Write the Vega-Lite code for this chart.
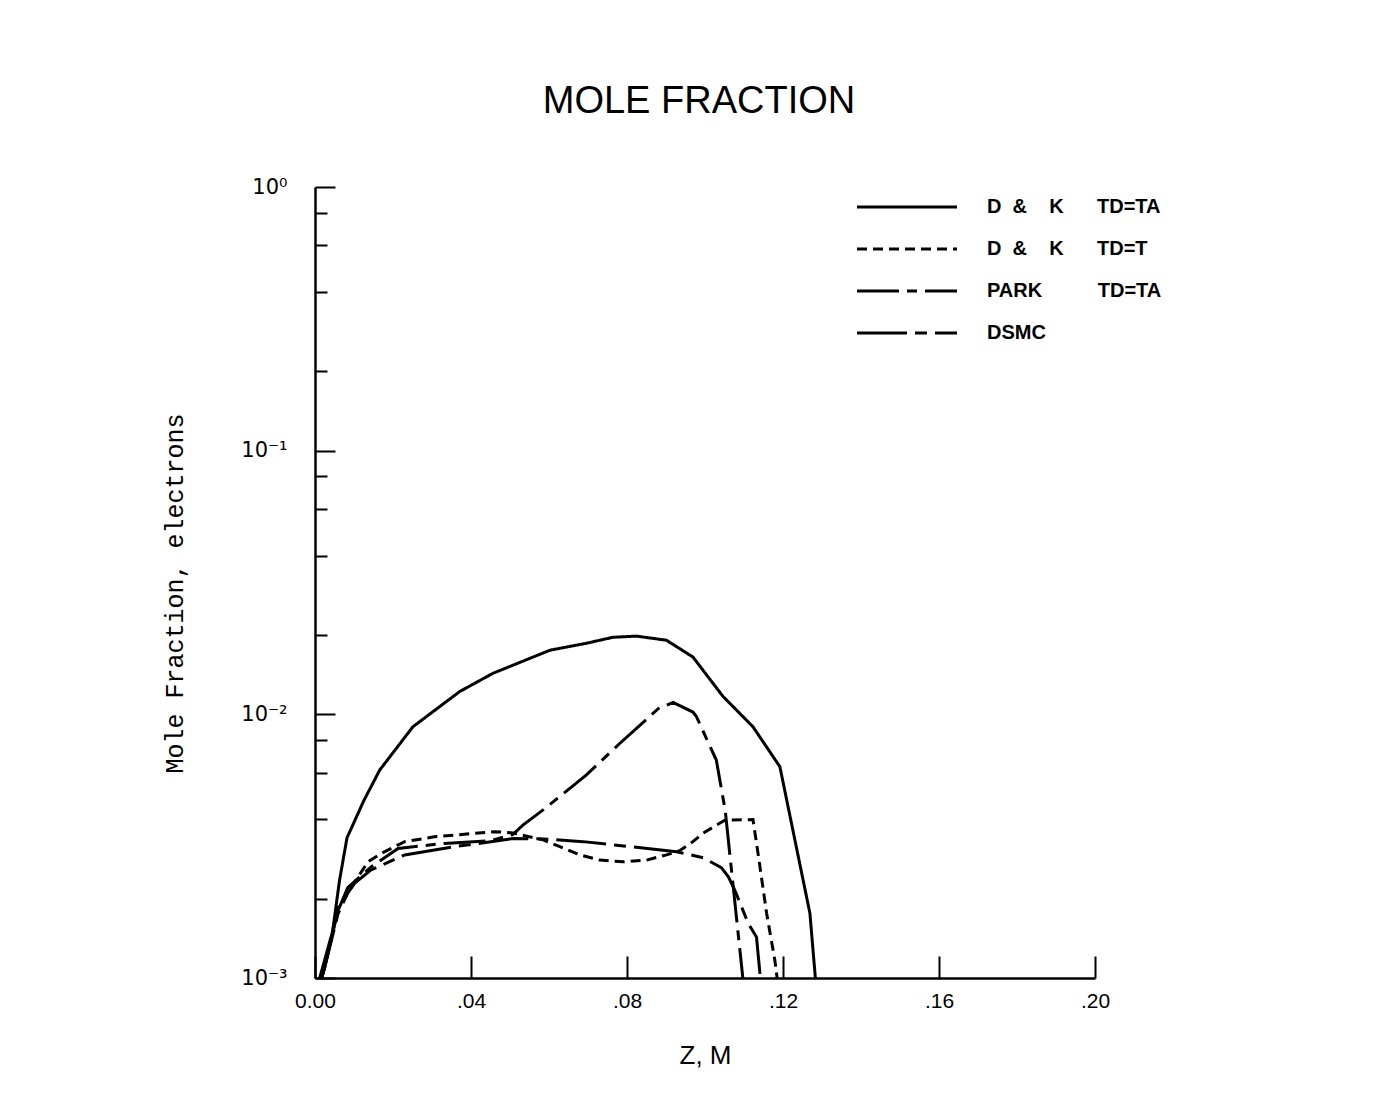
{
  "$schema": "https://vega.github.io/schema/vega-lite/v6.json",
  "width": 780,
  "height": 791,
  "autosize": {"type": "none"},
  "padding": {"left": 315, "top": 187, "right": 283, "bottom": 124},
  "background": "white",
  "config": {"view": {"stroke": null}},
  "title": {"text": "MOLE FRACTION", "anchor": "middle", "font": "Liberation Sans", "fontSize": 38, "fontWeight": "normal", "color": "black", "offset": 55, "dx": -6},
  "data": {"values": [
    {"s": "DK_TA", "z": 0.0012, "v": 0.001},
    {"s": "DK_TA", "z": 0.0045, "v": 0.0015},
    {"s": "DK_TA", "z": 0.0063, "v": 0.00235},
    {"s": "DK_TA", "z": 0.0082, "v": 0.0034},
    {"s": "DK_TA", "z": 0.0125, "v": 0.0047},
    {"s": "DK_TA", "z": 0.0166, "v": 0.00615},
    {"s": "DK_TA", "z": 0.0251, "v": 0.00897},
    {"s": "DK_TA", "z": 0.0371, "v": 0.0122},
    {"s": "DK_TA", "z": 0.0456, "v": 0.0143},
    {"s": "DK_TA", "z": 0.0602, "v": 0.0175},
    {"s": "DK_TA", "z": 0.0696, "v": 0.0186},
    {"s": "DK_TA", "z": 0.0764, "v": 0.0196},
    {"s": "DK_TA", "z": 0.0824, "v": 0.0198},
    {"s": "DK_TA", "z": 0.0901, "v": 0.0191},
    {"s": "DK_TA", "z": 0.0969, "v": 0.0165},
    {"s": "DK_TA", "z": 0.1046, "v": 0.0117},
    {"s": "DK_TA", "z": 0.1123, "v": 0.00897},
    {"s": "DK_TA", "z": 0.1192, "v": 0.00633},
    {"s": "DK_TA", "z": 0.1269, "v": 0.00176},
    {"s": "DK_TA", "z": 0.1283, "v": 0.001},
    {"s": "DK_T", "z": 0.0017, "v": 0.001},
    {"s": "DK_T", "z": 0.0025, "v": 0.0011},
    {"s": "DK_T", "z": 0.0059, "v": 0.00185},
    {"s": "DK_T", "z": 0.0136, "v": 0.00276},
    {"s": "DK_T", "z": 0.017, "v": 0.00297},
    {"s": "DK_T", "z": 0.023, "v": 0.00329},
    {"s": "DK_T", "z": 0.0306, "v": 0.00343},
    {"s": "DK_T", "z": 0.046, "v": 0.00359},
    {"s": "DK_T", "z": 0.0507, "v": 0.00355},
    {"s": "DK_T", "z": 0.0585, "v": 0.00334},
    {"s": "DK_T", "z": 0.0628, "v": 0.00315},
    {"s": "DK_T", "z": 0.0679, "v": 0.00293},
    {"s": "DK_T", "z": 0.073, "v": 0.0028},
    {"s": "DK_T", "z": 0.079, "v": 0.00276},
    {"s": "DK_T", "z": 0.085, "v": 0.0028},
    {"s": "DK_T", "z": 0.0901, "v": 0.00293},
    {"s": "DK_T", "z": 0.0935, "v": 0.00304},
    {"s": "DK_T", "z": 0.0969, "v": 0.00329},
    {"s": "DK_T", "z": 0.0995, "v": 0.00354},
    {"s": "DK_T", "z": 0.1051, "v": 0.00397},
    {"s": "DK_T", "z": 0.1123, "v": 0.00399},
    {"s": "DK_T", "z": 0.1136, "v": 0.00297},
    {"s": "DK_T", "z": 0.1158, "v": 0.00176},
    {"s": "DK_T", "z": 0.1179, "v": 0.00117},
    {"s": "DK_T", "z": 0.1185, "v": 0.001},
    {"s": "PARK", "z": 0.0017, "v": 0.001},
    {"s": "PARK", "z": 0.0025, "v": 0.0011},
    {"s": "PARK", "z": 0.0059, "v": 0.0018},
    {"s": "PARK", "z": 0.0084, "v": 0.0022},
    {"s": "PARK", "z": 0.0144, "v": 0.00264},
    {"s": "PARK", "z": 0.0213, "v": 0.0031},
    {"s": "PARK", "z": 0.0332, "v": 0.00324},
    {"s": "PARK", "z": 0.0452, "v": 0.00332},
    {"s": "PARK", "z": 0.0507, "v": 0.0035},
    {"s": "PARK", "z": 0.0533, "v": 0.0038},
    {"s": "PARK", "z": 0.0585, "v": 0.00434},
    {"s": "PARK", "z": 0.0696, "v": 0.00589},
    {"s": "PARK", "z": 0.0777, "v": 0.00765},
    {"s": "PARK", "z": 0.088, "v": 0.0105},
    {"s": "PARK", "z": 0.0918, "v": 0.0111},
    {"s": "PARK", "z": 0.0969, "v": 0.0102},
    {"s": "PARK", "z": 0.0978, "v": 0.0098},
    {"s": "PARK", "z": 0.1029, "v": 0.00671},
    {"s": "PARK", "z": 0.1052, "v": 0.0043},
    {"s": "PARK", "z": 0.1097, "v": 0.001},
    {"s": "DSMC", "z": 0.0017, "v": 0.001},
    {"s": "DSMC", "z": 0.0025, "v": 0.0011},
    {"s": "DSMC", "z": 0.0059, "v": 0.00175},
    {"s": "DSMC", "z": 0.0084, "v": 0.0021},
    {"s": "DSMC", "z": 0.0102, "v": 0.00229},
    {"s": "DSMC", "z": 0.0144, "v": 0.00257},
    {"s": "DSMC", "z": 0.023, "v": 0.00293},
    {"s": "DSMC", "z": 0.0359, "v": 0.00315},
    {"s": "DSMC", "z": 0.046, "v": 0.0033},
    {"s": "DSMC", "z": 0.0508, "v": 0.00338},
    {"s": "DSMC", "z": 0.0585, "v": 0.00337},
    {"s": "DSMC", "z": 0.0687, "v": 0.00329},
    {"s": "DSMC", "z": 0.0807, "v": 0.00315},
    {"s": "DSMC", "z": 0.0927, "v": 0.00301},
    {"s": "DSMC", "z": 0.0995, "v": 0.00286},
    {"s": "DSMC", "z": 0.1042, "v": 0.00262},
    {"s": "DSMC", "z": 0.106, "v": 0.00242},
    {"s": "DSMC", "z": 0.1076, "v": 0.00216},
    {"s": "DSMC", "z": 0.1111, "v": 0.00161},
    {"s": "DSMC", "z": 0.1132, "v": 0.00143},
    {"s": "DSMC", "z": 0.1142, "v": 0.001}
  ]},
  "encoding": {
    "x": {
      "field": "z", "type": "quantitative",
      "scale": {"domain": [0, 0.2], "nice": false, "zero": false},
      "axis": {
        "values": [0, 0.04, 0.08, 0.12, 0.16, 0.2],
        "labelExpr": "datum.value == 0 ? '0.00' : replace(format(datum.value, '.2f'), '0.', '.')",
        "grid": false, "tickSize": -22, "tickWidth": 2, "tickColor": "black",
        "domainColor": "black", "domainWidth": 2.5,
        "labelFont": "Liberation Sans", "labelFontSize": 21, "labelColor": "black",
        "labelPadding": 34, "labelFlush": false, "labelOverlap": false,
        "title": "Z, M", "titleFont": "Liberation Sans", "titleFontSize": 26, "titleFontWeight": "normal", "titleColor": "black", "titlePadding": 31
      }
    }
  },
  "layer": [
    {
      "mark": {"type": "line", "color": "black", "strokeWidth": 3},
      "encoding": {
        "y": {
          "field": "v", "type": "quantitative",
          "scale": {"type": "log", "domain": [0.001, 1], "nice": false},
          "axis": {
            "orient": "left",
            "values": [0.001, 0.01, 0.1, 1],
            "labelExpr": "datum.value >= 1 ? '10⁰' : datum.value >= 0.1 ? '10⁻¹' : datum.value >= 0.01 ? '10⁻²' : '10⁻³'",
            "grid": false, "tickSize": -20, "tickWidth": 2, "tickColor": "black",
            "domainColor": "black", "domainWidth": 2.5,
            "labelFont": "DejaVu Sans", "labelFontSize": 21, "labelColor": "black",
            "labelPadding": 48, "labelOverlap": false,
            "title": "Mole Fraction, electrons", "titleFont": "Liberation Mono", "titleFontSize": 25, "titleFontWeight": "normal", "titleColor": "black", "titlePadding": 53, "titleY": 406
          }
        },
        "strokeDash": {
          "field": "s", "type": "nominal",
          "scale": {"domain": ["DK_TA", "DK_T", "PARK", "DSMC"], "range": [[1, 0], [10, 6], [42, 8, 10, 8], [50, 8, 12, 8]]},
          "legend": {
            "orient": "none", "legendX": 582, "legendY": 10, "title": null, "padding": 0,
            "symbolType": "M-10,0H10", "symbolSize": 100, "symbolStrokeWidth": 3, "symbolStrokeColor": "black",
            "labelFont": "Liberation Sans", "labelFontSize": 20, "labelFontWeight": "bold", "labelColor": "black",
            "labelOffset": 70, "rowPadding": 22, "labelLimit": 0,
            "labelExpr": "datum.value == 'DK_TA' ? 'D\u00a0\u00a0&\u00a0\u00a0\u00a0\u00a0K\u00a0\u00a0\u00a0\u00a0\u00a0\u00a0TD=TA' : datum.value == 'DK_T' ? 'D\u00a0\u00a0&\u00a0\u00a0\u00a0\u00a0K\u00a0\u00a0\u00a0\u00a0\u00a0\u00a0TD=T' : datum.value == 'PARK' ? 'PARK\u00a0\u00a0\u00a0\u00a0\u00a0\u00a0\u00a0\u00a0\u00a0\u00a0TD=TA' : 'DSMC'"
          }
        }
      }
    },
    {
      "mark": {"type": "line", "strokeOpacity": 0},
      "encoding": {
        "detail": {"field": "s"},
        "y": {
          "field": "v", "type": "quantitative",
          "scale": {"type": "log", "domain": [0.001, 1], "nice": false},
          "axis": {
            "orient": "left",
            "values": [0.002, 0.004, 0.006, 0.008, 0.02, 0.04, 0.06, 0.08, 0.2, 0.4, 0.6, 0.8],
            "labels": false, "domain": false, "grid": false, "title": null,
            "tickSize": -12, "tickWidth": 2, "tickColor": "black"
          }
        }
      }
    }
  ],
  "resolve": {"axis": {"y": "independent"}}
}
